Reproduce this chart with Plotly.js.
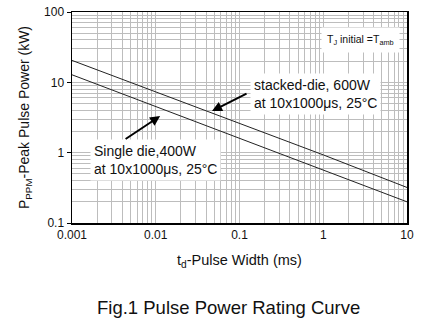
<!DOCTYPE html>
<html>
<head>
<meta charset="utf-8">
<script src="https://cdn.plot.ly/plotly-3.0.1.min.js"></script>
<style>html,body{margin:0;padding:0;background:#fff;}#chart{width:442px;height:327px;}</style>
</head>
<body>
<div id="chart"></div>
<script>
var pulseWidth = [0.001, 0.01, 0.1, 1, 10];
var stackedDie = [20.5, 7.3, 2.6, 0.93, 0.32];
var singleDie = [12.8, 4.5, 1.6, 0.57, 0.2];
var xTickVals = [0.001, 0.01, 0.1, 1, 10];
var xTickText = ['0.001', '0.01', '0.1', '1', '10'];
var yTickVals = [0.1, 1, 10, 100];
var yTickText = ['0.1', '1', '10', '100'];

var font = 'Liberation Sans, Arial, sans-serif';
var traces = [
  {x: pulseWidth, y: stackedDie, mode: 'lines', line: {color: '#222', width: 1}, name: 'stacked-die'},
  {x: pulseWidth, y: singleDie, mode: 'lines', line: {color: '#222', width: 1}, name: 'single die'}
];
var layout = {
  width: 442, height: 327,
  margin: {l: 72, r: 35, t: 12, b: 104},
  paper_bgcolor: '#fff', plot_bgcolor: '#fff',
  showlegend: false,
  font: {family: font, color: '#111'},
  xaxis: {
    type: 'log', range: [-3, 1],
    tickvals: xTickVals, ticktext: xTickText,
    tickfont: {size: 12, family: font, color: '#111'},
    showgrid: true, gridcolor: '#bdbdbd', gridwidth: 1,
    minor: {dtick: 'D1', showgrid: true, gridcolor: '#bdbdbd', gridwidth: 1},
    showline: true, linecolor: '#000', linewidth: 1.5, mirror: true,
    ticks: '', zeroline: false,
    title: {text: 't<sub>d</sub>-Pulse Width (ms)', font: {size: 14.5, family: font, color: '#111'}, standoff: 14}
  },
  yaxis: {
    type: 'log', range: [-1, 2],
    tickvals: yTickVals, ticktext: yTickText,
    tickfont: {size: 12, family: font, color: '#111'},
    showgrid: true, gridcolor: '#bdbdbd', gridwidth: 1,
    minor: {dtick: 'D1', showgrid: true, gridcolor: '#bdbdbd', gridwidth: 1},
    showline: true, linecolor: '#000', linewidth: 1.5, mirror: true,
    ticks: 'outside', ticklen: 4, tickcolor: '#000', zeroline: false,
    title: {text: 'P<sub>PPM</sub>-Peak Pulse Power (kW)', font: {size: 14, family: font, color: '#111'}, standoff: 11}
  },
  annotations: [
    {xref: 'paper', yref: 'paper', x: 0.98, y: 0.865, xanchor: 'right', yanchor: 'middle',
     text: 'T<sub>J</sub> initial =T<sub>amb</sub>', showarrow: false,
     font: {size: 10.5, family: font, color: '#111'}, bgcolor: '#fff', borderpad: 5},
    {xref: 'paper', yref: 'paper', x: 0.53, y: 0.61, xanchor: 'left', yanchor: 'middle', align: 'left',
     text: 'stacked-die, 600W<br>at 10x1000μs, 25°C', showarrow: false,
     font: {size: 14, family: font, color: '#111'}, bgcolor: '#fff', borderpad: 3},
    {xref: 'paper', yref: 'paper', x: 0.418, y: 0.531, ax: 36, ay: -18, axref: 'pixel', ayref: 'pixel',
     text: '', showarrow: true, arrowhead: 2, arrowsize: 1, arrowwidth: 2, arrowcolor: '#000'},
    {xref: 'paper', yref: 'paper', x: 0.055, y: 0.30, xanchor: 'left', yanchor: 'middle', align: 'left',
     text: 'Single die,400W<br>at 10x1000μs, 25°C', showarrow: false,
     font: {size: 14, family: font, color: '#111'}, bgcolor: '#fff', borderpad: 3},
    {xref: 'paper', yref: 'paper', x: 0.263, y: 0.507, ax: -36, ay: 24, axref: 'pixel', ayref: 'pixel',
     text: '', showarrow: true, arrowhead: 2, arrowsize: 1, arrowwidth: 2, arrowcolor: '#000'},
    {xref: 'paper', yref: 'paper', x: 0.467, y: -0.4, xanchor: 'center', yanchor: 'middle',
     text: 'Fig.1 Pulse Power Rating Curve', showarrow: false,
     font: {size: 18.5, family: font, color: '#111'}}
  ]
};
Plotly.newPlot('chart', traces, layout, {displayModeBar: false, staticPlot: true});
</script>
</body>
</html>
